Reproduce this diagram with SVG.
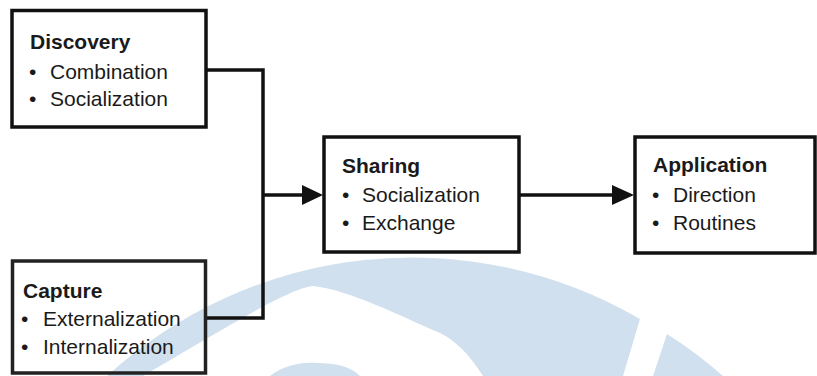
<svg xmlns="http://www.w3.org/2000/svg" width="817" height="376" viewBox="0 0 817 376">
<defs>
<style>
.box{fill:none;stroke:#111;stroke-width:3.5}
.wire{fill:none;stroke:#111;stroke-width:3.5}
.head{fill:#111}
.t{font-family:"Liberation Sans",Arial,sans-serif;font-size:21px;fill:#1a1a1a}
.b{font-weight:bold}
.wm{fill:#d0e0ee}
</style>
</defs>
<rect width="817" height="376" fill="#fff"/>
<g id="watermark">
<path class="wm" d="M107,376 A452.5,452.5 0 0 1 640,319 L623,376 L483,376 C470,355 455,340 440,333 C400,316 350,290 313,286 C290,288 230,325 143,376 Z"/>
<path class="wm" d="M667,334 A452.5,452.5 0 0 1 723,376 L653,376 Z"/>
<path class="wm" d="M270,376 C285,364 305,362 317,363 C335,363 350,366 360,376 Z"/>
</g>
<g id="connectors">
<polyline class="wire" points="206,70 263,70 263,318 206,318"/>
<line class="wire" x1="263" y1="195" x2="305" y2="195"/>
<polygon class="head" points="302,185 323,195 302,205"/>
<line class="wire" x1="519" y1="195" x2="615" y2="195"/>
<polygon class="head" points="612,185 634,195 612,205"/>
</g>
<g id="discovery">
<rect class="box" x="12" y="10.5" width="194" height="116.5"/>
<text class="t b" x="30" y="49">Discovery</text>
<text class="t" y="79"><tspan x="29">•</tspan><tspan x="50">Combination</tspan></text>
<text class="t" y="106"><tspan x="29">•</tspan><tspan x="50">Socialization</tspan></text>
</g>
<g id="capture">
<rect class="box" x="12.5" y="261" width="193" height="112" style="stroke:#222"/>
<text class="t b" x="23" y="298">Capture</text>
<text class="t" y="326"><tspan x="21">•</tspan><tspan x="43">Externalization</tspan></text>
<text class="t" y="354"><tspan x="21">•</tspan><tspan x="43">Internalization</tspan></text>
</g>
<g id="sharing">
<rect class="box" x="324" y="137" width="195" height="115"/>
<text class="t b" x="342" y="173">Sharing</text>
<text class="t" y="202"><tspan x="342">•</tspan><tspan x="362">Socialization</tspan></text>
<text class="t" y="230"><tspan x="342">•</tspan><tspan x="362">Exchange</tspan></text>
</g>
<g id="application">
<rect class="box" x="635" y="137" width="180" height="116"/>
<text class="t b" x="653" y="172">Application</text>
<text class="t" y="202"><tspan x="652">•</tspan><tspan x="673">Direction</tspan></text>
<text class="t" y="230"><tspan x="652">•</tspan><tspan x="673">Routines</tspan></text>
</g>
</svg>
